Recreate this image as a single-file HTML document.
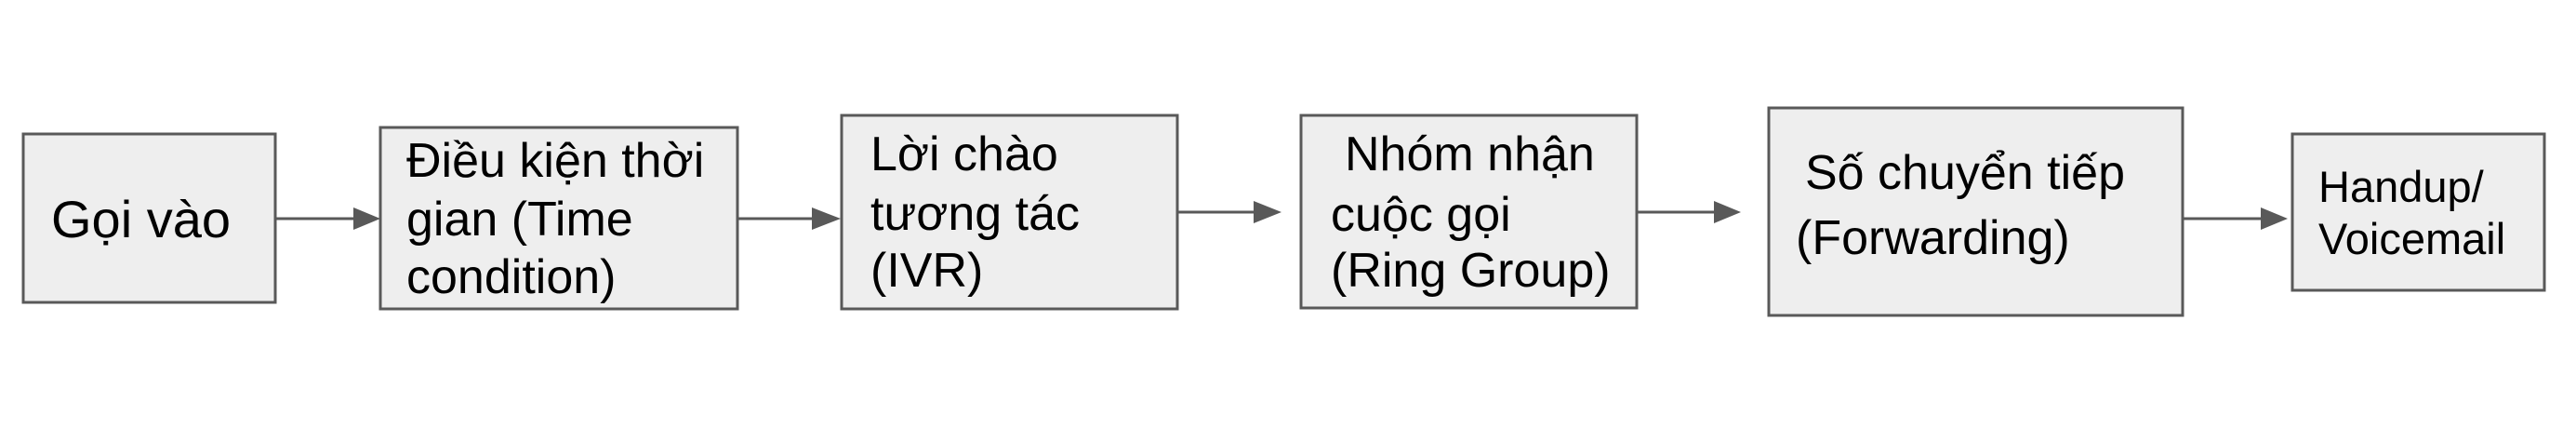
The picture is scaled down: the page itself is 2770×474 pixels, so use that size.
<!DOCTYPE html>
<html><head><meta charset="utf-8"><style>html,body{margin:0;padding:0;background:#fff}svg{display:block}</style></head>
<body>
<svg width="2770" height="474" viewBox="0 0 2770 474" xmlns="http://www.w3.org/2000/svg">
<g fill="#eeeeee" stroke="#595959" stroke-width="3">
<rect x="25" y="144" width="271" height="181"/>
<rect x="409" y="137" width="384" height="195"/>
<rect x="905" y="124" width="361" height="208"/>
<rect x="1399" y="124" width="361" height="207"/>
<rect x="1902" y="116" width="445" height="223"/>
<rect x="2465" y="144" width="271" height="168"/>
</g>
<g stroke="#595959" stroke-width="3">
<line x1="296" y1="235" x2="382" y2="235"/>
<line x1="793" y1="235" x2="875" y2="235"/>
<line x1="1266" y1="228" x2="1350" y2="228"/>
<line x1="1760" y1="228" x2="1845" y2="228"/>
<line x1="2347" y1="235" x2="2433" y2="235"/>
</g>
<g fill="#595959">
<polygon points="380,223 409,235 380,247"/>
<polygon points="873,223 904,235 873,247"/>
<polygon points="1348,216 1378,228 1348,240"/>
<polygon points="1843,216 1872,228 1843,240"/>
<polygon points="2431,223 2460,235 2431,247"/>
</g>
<g font-family="'Liberation Sans', 'Noto Sans CJK SC', sans-serif" font-size="52" fill="#000">
<text x="55" y="255" font-size="56">Gọi vào</text>
<text x="437" y="190">Điều kiện thời</text>
<text x="437" y="253">gian (Time</text>
<text x="437" y="315">condition)</text>
<text x="936" y="183">Lời chào</text>
<text x="936" y="247">tương tác</text>
<text x="936" y="308">(IVR)</text>
<text x="1446" y="183">Nhóm nhận</text>
<text x="1431" y="248">cuộc gọi</text>
<text x="1431" y="308">(Ring Group)</text>
<text x="1941" y="203">Số chuyển tiếp</text>
<text x="1931" y="273">(Forwarding)</text>
<text x="2493" y="217" font-size="47">Handup/</text>
<text x="2493" y="273" font-size="47">Voicemail</text>
</g>
</svg>
</body></html>
